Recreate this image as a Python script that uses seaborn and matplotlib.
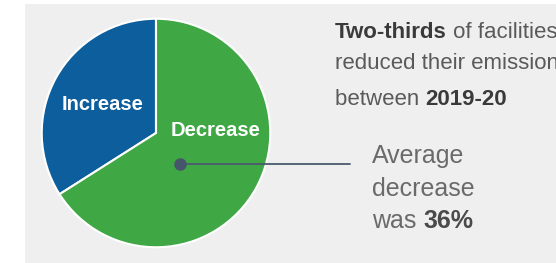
import matplotlib
matplotlib.use("Agg")
import matplotlib.pyplot as plt
import seaborn as sns
from matplotlib.patches import Rectangle

sns.set_theme(style="white")
plt.rcParams['font.family'] = ['Liberation Sans', 'DejaVu Sans']

# Data
categories = ["Increase", "Decrease"]
shares = [34, 66]
colors = ["#0d5e9c", "#3fa844"]
avg_decrease = "36%"

W, H = 556, 263
fig = plt.figure(figsize=(W / 100, H / 100), dpi=100)
fig.patch.set_facecolor("white")

# gray panel
fig.patches.append(Rectangle((25 / W, 0), 1 - 25 / W, (H - 4) / H,
                             transform=fig.transFigure, facecolor="#efefef",
                             edgecolor="none", zorder=-10))

# pie axes: center (156,133) px, radius 116 px
cx, cy, r = 156, 133, 116
ax = fig.add_axes([(cx - r) / W, (H - cy - r) / H, 2 * r / W, 2 * r / H])
ax.set_zorder(1)
ax.patch.set_visible(False)
ax.axis("off")
wedges, texts = ax.pie(shares, colors=colors, startangle=90, counterclock=True,
                       radius=0.985, frame=False,
                       wedgeprops=dict(edgecolor="white", linewidth=1.5))
ax.set_xlim(-1, 1)
ax.set_ylim(-1, 1)
ax.set_aspect("auto")

ax.text((103 - cx) / r, (cy - 105) / r, categories[0], color="white",
        fontsize=14.5, fontweight="bold", ha="center", va="center")
ax.text((216 - cx) / r, (cy - 130) / r, categories[1], color="white",
        fontsize=14.5, fontweight="bold", ha="center", va="center")

# dot + leader line
dx, dy = (180 - cx) / r, (cy - 164) / r
ex = (350 - cx) / r
ax.plot([dx, ex], [dy, dy], color="#4b5a70", linewidth=1.3, clip_on=False, zorder=5)
ax.plot([dx], [dy], marker="o", markersize=8, color="#46556b", clip_on=False, zorder=6)


def ftxt(x, y, parts, size, color_n, color_b):
    renderer = fig.canvas.get_renderer()
    xpos = x
    for s, bold in parts:
        t = fig.text(xpos / W, 1 - y / H, s, fontsize=size,
                     fontweight="bold" if bold else "normal",
                     color=color_b if bold else color_n, va="baseline", ha="left")
        bb = t.get_window_extent(renderer=renderer)
        xpos += bb.width


ftxt(335, 38, [("Two-thirds", True), (" of facilities", False)], 16, "#5a5a5a", "#3a3a3a")
ftxt(335, 69, [("reduced their emissions", False)], 16, "#5a5a5a", "#3a3a3a")
ftxt(335, 105, [("between ", False), ("2019-20", True)], 16, "#5a5a5a", "#3a3a3a")

ftxt(372, 163, [("Average", False)], 18, "#6a6a6a", "#4a4a4a")
ftxt(372, 196, [("decrease", False)], 18, "#6a6a6a", "#4a4a4a")
ftxt(372, 228, [("was ", False), (avg_decrease, True)], 18, "#6a6a6a", "#4a4a4a")

fig.savefig("out.png", dpi=100)
